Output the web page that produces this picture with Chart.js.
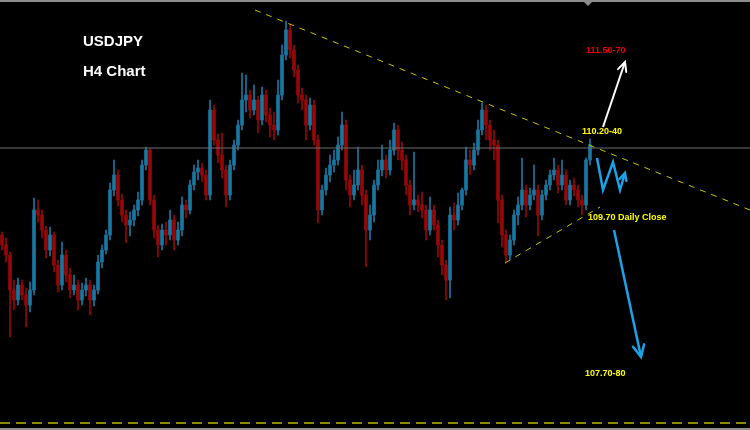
<!DOCTYPE html>
<html lang="en">
<head>
    <meta charset="UTF-8">
    <title>USDJPY H4 Chart</title>
    <script src="https://cdn.jsdelivr.net/npm/chart.js"></script>
    <style>
        html, body {
            margin: 0;
            padding: 0;
            background: #000;
        }
        .chart-box {
            width: 750px;
            height: 430px;
            position: relative;
        }
    </style>
</head>
<body>

    <div class="chart-box">
        <canvas id="chartContainer"></canvas>
    </div>

    <script>
        // H4 candles (price)
        const opens = [
            109.45, 109.35, 109.25, 108.90, 108.80, 108.95, 108.85, 108.75, 108.90, 109.70,
            109.65, 109.50, 109.30, 109.45, 109.15, 108.95, 109.25, 109.05, 108.90, 108.95,
            108.80, 108.90, 108.95, 108.80, 108.90, 109.18, 109.30, 109.45, 109.90, 110.05,
            109.80, 109.65, 109.55, 109.60, 109.70, 109.80, 110.15, 110.30, 109.80, 109.50,
            109.35, 109.50, 109.45, 109.60, 109.40, 109.50, 109.75, 109.70, 109.95, 110.08,
            110.12, 110.05, 109.85, 110.70, 110.40, 110.25, 110.10, 109.85, 110.15, 110.35,
            110.55, 110.80, 110.85, 110.70, 110.80, 110.60, 110.85, 110.65, 110.55, 110.50,
            110.85, 111.25, 111.50, 111.30, 111.10, 110.85, 110.80, 110.55, 110.75, 110.40,
            109.70, 109.90, 110.05, 110.15, 110.20, 110.35, 110.55, 110.00, 109.85, 109.95,
            110.10, 109.85, 109.50, 109.65, 109.95, 110.10, 110.20, 110.10, 110.30, 110.50,
            110.30, 110.20, 109.95, 109.75, 109.80, 109.75, 109.70, 109.50, 109.70, 109.55,
            109.35, 109.15, 109.00, 109.65, 109.60, 109.75, 109.90, 110.20, 110.15, 110.30,
            110.50, 110.70, 110.55, 110.40, 110.35, 109.80, 109.45, 109.25, 109.40, 109.65,
            109.75, 109.90, 109.75, 109.85, 109.90, 109.65, 109.85, 109.95, 110.05, 110.10,
            109.95, 110.05, 109.80, 109.95, 109.90, 109.80, 109.75, 110.20
        ];
        const highs = [
            109.48, 109.42, 109.28, 109.00, 109.02, 109.00, 108.92, 108.98, 109.82, 109.80,
            109.70, 109.54, 109.53, 109.48, 109.20, 109.38, 109.30, 109.12, 109.05, 109.00,
            108.97, 109.02, 109.00, 108.95, 109.25, 109.35, 109.50, 109.97, 110.20, 110.10,
            109.86, 109.70, 109.68, 109.75, 109.88, 110.20, 110.33, 110.32, 109.85, 109.55,
            109.56, 109.58, 109.70, 109.65, 109.58, 109.83, 109.80, 110.00, 110.15, 110.20,
            110.17, 110.10, 110.80, 110.75, 110.46, 110.47, 110.15, 110.20, 110.40, 110.60,
            111.07, 111.05, 110.90, 110.95, 110.84, 110.93, 110.90, 110.72, 110.68, 111.00,
            111.35, 111.59, 111.56, 111.35, 111.15, 110.92, 110.85, 110.82, 110.80, 110.45,
            109.95, 110.12, 110.25, 110.30, 110.43, 110.68, 110.60, 110.05, 110.10, 110.33,
            110.15, 109.90, 109.75, 110.00, 110.20, 110.35, 110.25, 110.40, 110.57, 110.55,
            110.38, 110.25, 110.00, 110.28, 109.85, 109.88, 109.75, 109.83, 109.75, 109.60,
            109.40, 109.20, 109.73, 109.77, 109.87, 109.92, 110.33, 110.30, 110.37, 110.60,
            110.77, 110.75, 110.60, 110.50, 110.40, 109.85, 109.50, 109.45, 109.70, 109.83,
            110.22, 109.95, 109.92, 110.15, 109.95, 109.90, 110.00, 110.10, 110.22, 110.15,
            110.20, 110.10, 110.00, 110.02, 109.95, 109.85, 110.22, 110.41
        ];
        const lows = [
            109.30, 109.18, 108.43, 108.70, 108.75, 108.80, 108.53, 108.68, 108.85, 109.58,
            109.42, 109.22, 109.24, 109.08, 108.88, 108.90, 108.98, 108.82, 108.85, 108.70,
            108.75, 108.84, 108.65, 108.74, 108.86, 109.12, 109.26, 109.40, 109.84, 109.74,
            109.58, 109.37, 109.44, 109.54, 109.64, 109.75, 110.10, 109.75, 109.42, 109.23,
            109.30, 109.35, 109.40, 109.30, 109.35, 109.44, 109.62, 109.66, 109.90, 110.00,
            109.98, 109.80, 109.80, 110.35, 110.17, 110.02, 109.73, 109.80, 110.10, 110.30,
            110.50, 110.68, 110.62, 110.65, 110.47, 110.55, 110.58, 110.43, 110.40, 110.45,
            110.80, 111.20, 111.22, 111.03, 110.77, 110.70, 110.40, 110.50, 110.35, 109.57,
            109.65, 109.85, 109.98, 110.08, 110.15, 110.30, 109.90, 109.73, 109.80, 109.90,
            109.75, 109.13, 109.40, 109.58, 109.90, 110.04, 110.02, 110.05, 110.25, 110.20,
            110.10, 109.85, 109.65, 109.70, 109.68, 109.62, 109.40, 109.45, 109.50, 109.23,
            109.05, 108.80, 108.82, 109.50, 109.55, 109.70, 109.85, 110.05, 110.10, 110.25,
            110.45, 110.40, 110.30, 110.20, 109.57, 109.33, 109.17, 109.20, 109.35, 109.55,
            109.70, 109.63, 109.70, 109.80, 109.44, 109.60, 109.80, 109.90, 110.00, 109.87,
            109.90, 109.75, 109.75, 109.84, 109.73, 109.65, 109.70, 110.15
        ];
        const closes = [
            109.35, 109.25, 108.90, 108.80, 108.95, 108.85, 108.75, 108.90, 109.70, 109.65,
            109.50, 109.30, 109.45, 109.15, 108.95, 109.25, 109.05, 108.90, 108.95, 108.80,
            108.90, 108.95, 108.80, 108.90, 109.18, 109.30, 109.45, 109.90, 110.05, 109.80,
            109.65, 109.55, 109.60, 109.70, 109.80, 110.15, 110.30, 109.80, 109.50, 109.35,
            109.50, 109.45, 109.60, 109.40, 109.50, 109.75, 109.70, 109.95, 110.08, 110.12,
            110.05, 109.85, 110.70, 110.40, 110.25, 110.10, 109.85, 110.15, 110.35, 110.55,
            110.80, 110.85, 110.70, 110.80, 110.60, 110.85, 110.65, 110.55, 110.50, 110.85,
            111.25, 111.50, 111.30, 111.10, 110.85, 110.80, 110.55, 110.75, 110.40, 109.70,
            109.90, 110.05, 110.15, 110.20, 110.35, 110.55, 110.00, 109.85, 109.95, 110.10,
            109.85, 109.50, 109.65, 109.95, 110.10, 110.20, 110.10, 110.30, 110.50, 110.30,
            110.20, 109.95, 109.75, 109.80, 109.75, 109.70, 109.50, 109.70, 109.55, 109.35,
            109.15, 109.00, 109.65, 109.60, 109.75, 109.90, 110.20, 110.15, 110.30, 110.50,
            110.70, 110.55, 110.40, 110.35, 109.80, 109.45, 109.25, 109.40, 109.65, 109.75,
            109.90, 109.75, 109.85, 109.90, 109.65, 109.85, 109.95, 110.05, 110.10, 109.95,
            110.05, 109.80, 109.95, 109.90, 109.80, 109.75, 110.20, 110.35
        ];

        // drawn lines, in candle index / price
        const resistanceLine = [[63.25, 111.70], [187, 109.70]];
        const supportLine = [[125.75, 109.17], [149.5, 109.73]];
        const bidLine = [[-0.5, 110.32], [187, 110.32]];
        const bottomLine = [[-0.5, 107.57], [187, 107.57]];
        const upArrow = [[150.25, 110.53], [155.75, 111.18]];
        const zigzag = [[148.75, 110.22], [150.25, 109.90], [152.75, 110.18], [154.5, 109.90], [155.75, 110.07]];
        const downArrow = [[153, 109.50], [159.75, 108.23]];

        const notes = [
            { text: 'USDJPY', x: 20.25, y: 111.38, color: '#ffffff', size: 15 },
            { text: 'H4 Chart', x: 20.25, y: 111.08, color: '#ffffff', size: 15 },
            { text: '111.50-70', x: 146, y: 111.29, color: '#ee0000', size: 9 },
            { text: '110.20-40', x: 145, y: 110.48, color: '#ffff00', size: 9 },
            { text: '109.70 Daily Close', x: 146.5, y: 109.62, color: '#ffff00', size: 9 },
            { text: '107.70-80', x: 145.75, y: 108.06, color: '#ffff00', size: 9 }
        ];

        const BLUE = '#1878a2';
        const RED = '#960808';
        const candleColors = closes.map((c, i) => c >= opens[i] ? BLUE : RED);

        function toPoints(list) {
            return list.map(p => ({ x: p[0], y: p[1] }));
        }

        function lineSet(list, color, width, dash) {
            return {
                type: 'line',
                data: toPoints(list),
                borderColor: color,
                borderWidth: width,
                borderDash: dash,
                pointRadius: 0,
                fill: false,
                tension: 0,
                order: 0
            };
        }

        // black background, frame, arrow heads and texts
        const decorations = {
            id: 'decorations',
            beforeDraw(chart) {
                const c = chart.ctx;
                c.save();
                c.fillStyle = '#000';
                c.fillRect(0, 0, chart.width, chart.height);
                c.restore();
            },
            afterDatasetsDraw(chart) {
                const c = chart.ctx;
                const xs = chart.scales.x;
                const ys = chart.scales.y;
                const px = p => [xs.getPixelForValue(p[0]), ys.getPixelForValue(p[1])];

                c.save();
                // frame
                c.strokeStyle = '#8c8c8c';
                c.lineWidth = 2;
                c.beginPath();
                c.moveTo(0, 1); c.lineTo(chart.width, 1);
                c.moveTo(0, chart.height - 1); c.lineTo(chart.width, chart.height - 1);
                c.stroke();
                c.fillStyle = '#8c8c8c';
                c.beginPath();
                c.moveTo(582, 0); c.lineTo(594, 0); c.lineTo(588, 6);
                c.closePath();
                c.fill();

                function head(a, b, color, len, width) {
                    const p1 = px(a), p2 = px(b);
                    const ang = Math.atan2(p2[1] - p1[1], p2[0] - p1[0]);
                    c.strokeStyle = color;
                    c.lineWidth = width;
                    c.lineCap = 'round';
                    c.beginPath();
                    c.moveTo(p2[0] - len * Math.cos(ang - 0.45), p2[1] - len * Math.sin(ang - 0.45));
                    c.lineTo(p2[0], p2[1]);
                    c.lineTo(p2[0] - len * Math.cos(ang + 0.45), p2[1] - len * Math.sin(ang + 0.45));
                    c.stroke();
                }
                head(upArrow[0], upArrow[1], '#ffffff', 10, 2);
                head(zigzag[3], zigzag[4], '#1aa3e8', 8, 2.5);
                head(downArrow[0], downArrow[1], '#1aa3e8', 13, 2.5);

                c.textAlign = 'left';
                c.textBaseline = 'middle';
                notes.forEach(n => {
                    const p = px([n.x, n.y]);
                    c.font = 'bold ' + n.size + 'px Arial, "Liberation Sans", sans-serif';
                    c.fillStyle = n.color;
                    c.fillText(n.text, p[0], p[1]);
                });
                c.restore();
            }
        };

        const ctx = document.getElementById('chartContainer').getContext('2d');
        const myChart = new Chart(ctx, {
            type: 'bar',
            data: {
                datasets: [
                    lineSet(resistanceLine, '#c8c800', 1, [6, 6]),
                    lineSet(supportLine, '#c8c800', 1, [6, 6]),
                    lineSet(bidLine, '#6e6e6e', 1, []),
                    lineSet(bottomLine, '#b4b400', 1.5, [10, 6]),
                    lineSet(upArrow, '#ffffff', 2, []),
                    lineSet(zigzag, '#1aa3e8', 2.5, []),
                    lineSet(downArrow, '#1aa3e8', 2.5, []),
                    {
                        label: 'bodies',
                        data: opens.map((o, i) => ({ x: i, y: [Math.min(o, closes[i]), Math.max(o, closes[i])] })),
                        backgroundColor: candleColors,
                        borderWidth: 0,
                        barThickness: 3,
                        grouped: false,
                        order: 1
                    },
                    {
                        label: 'wicks',
                        data: highs.map((h, i) => ({ x: i, y: [lows[i], h] })),
                        backgroundColor: candleColors,
                        borderWidth: 0,
                        barThickness: 1,
                        grouped: false,
                        order: 2
                    }
                ]
            },
            options: {
                responsive: true,
                maintainAspectRatio: false,
                animation: false,
                events: [],
                layout: { padding: 0 },
                plugins: {
                    legend: { display: false },
                    tooltip: { enabled: false }
                },
                scales: {
                    x: { type: 'linear', min: -0.5, max: 187, offset: false, display: false },
                    y: { min: 107.5, max: 111.8, display: false }
                }
            },
            plugins: [decorations]
        });
    </script>

</body>
</html>
